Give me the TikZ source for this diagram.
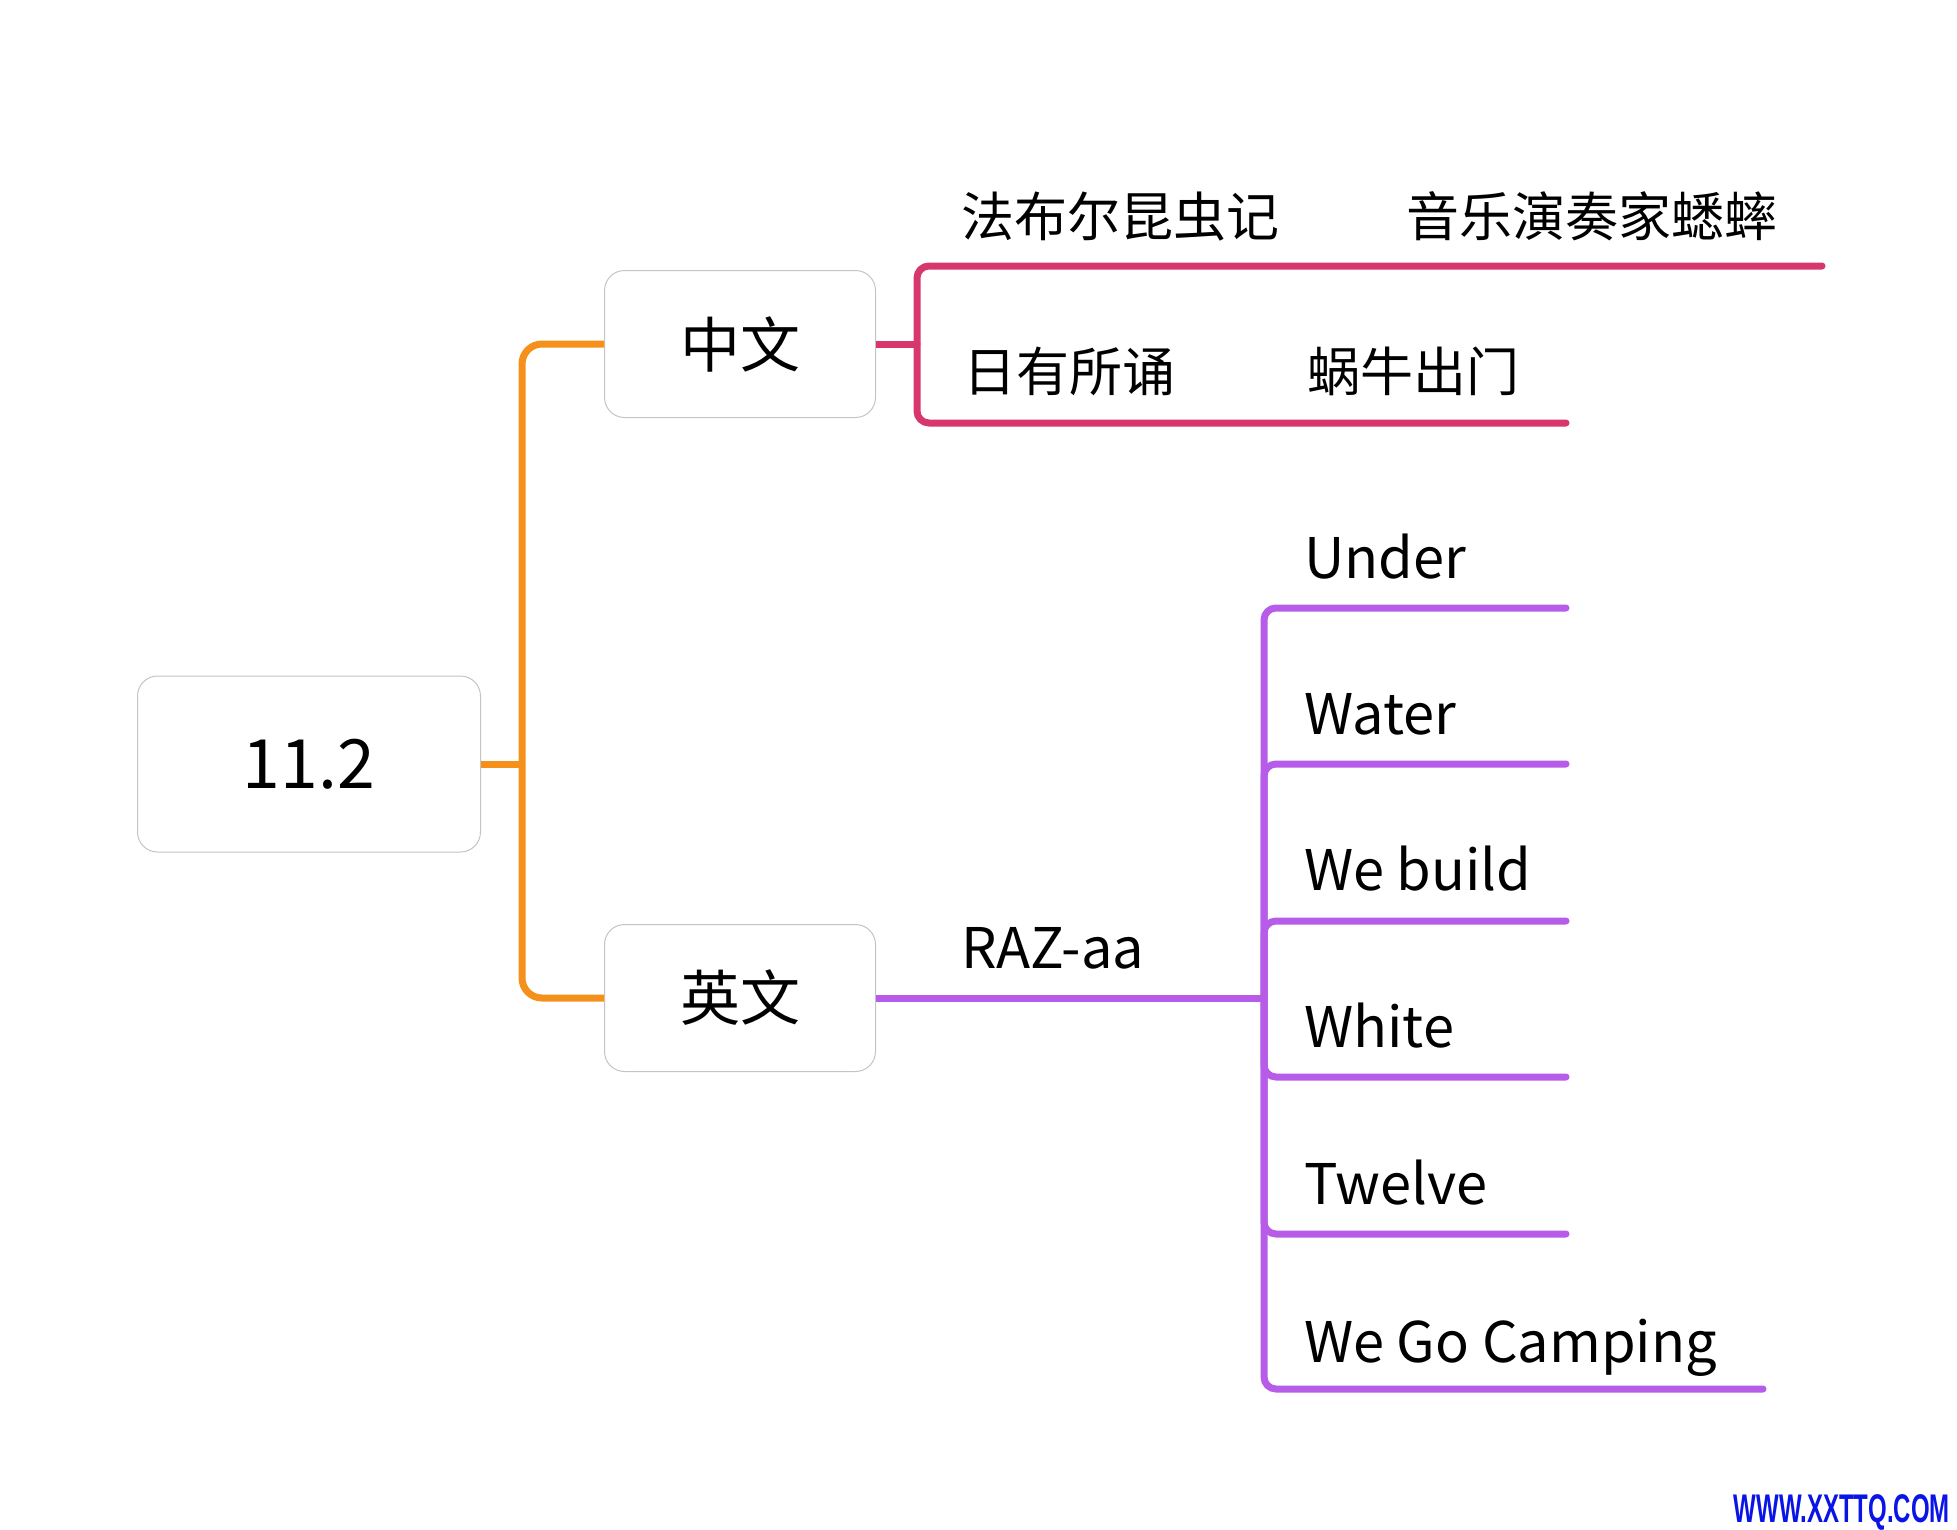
\documentclass[tikz,border=0pt]{standalone}
\usepackage{fontspec}
\setmainfont{Noto Sans CJK SC}
\newfontfamily\wmfont{Liberation Sans}
\definecolor{corange}{HTML}{F5901A}
\definecolor{cpink}{HTML}{D8376D}
\definecolor{cpurple}{HTML}{B65CE8}
\definecolor{cborder}{HTML}{C4C4C4}
\definecolor{cwm}{HTML}{0A14E6}
\begin{document}
\begin{tikzpicture}[x=1pt,y=-1pt,
  topicbox/.style={draw=cborder, line width=1pt, rounded corners=20, fill=white,
    inner sep=0pt, align=center},
  cjklabel/.style={anchor=base west, inner sep=0pt, font=\fontsize{53}{60}\selectfont},
  enlabel/.style={anchor=base west, inner sep=0pt, font=\fontsize{56}{62}\selectfont},
  oline/.style={draw=corange, line width=7pt, line cap=round},
  pline/.style={draw=cpink, line width=7pt, line cap=round},
  vline/.style={draw=cpurple, line width=7pt, line cap=round}]
\useasboundingbox (0,0) rectangle (1957,1529);
% topic boxes
\node[topicbox, minimum width=343pt, minimum height=176pt,
      font=\fontsize{68}{72}\selectfont] (root) at (309,764) {11.2};
\node[topicbox, minimum width=271pt, minimum height=147pt,
      font=\fontsize{60}{64}\selectfont] (zw) at (740,344) {中文};
\node[topicbox, minimum width=271pt, minimum height=147pt,
      font=\fontsize{60}{64}\selectfont] (yw) at (740,998) {英文};
% orange connectors
\coordinate (oj) at (522,764);
\draw[oline, line cap=butt] (root.east) -- (oj);
\draw[oline, line cap=butt, rounded corners=20] (zw.west) -| (oj) |- (yw.west);
% pink branch
\coordinate (pj) at (917,344);
\coordinate (p1) at (1822,266);
\coordinate (p2) at (1566,423);
\draw[pline, line cap=butt] (zw.east) -- (pj);
\draw[pline, rounded corners=12] (p1) -| (pj);
\draw[pline, rounded corners=12] (p2) -| (pj);
\node[cjklabel] (t1) at (961,236) {法布尔昆虫记};
\node[cjklabel] (t2) at (1406,236) {音乐演奏家蟋蟀};
\node[cjklabel] (t3) at (963,391) {日有所诵};
\node[cjklabel] (t4) at (1307,391) {蜗牛出门};
% purple branch
\coordinate (vj) at (1264,998);
\draw[vline, line cap=butt] (yw.east) -- (vj);
\node[enlabel] (raz) at (961,968) {RAZ-aa};
\coordinate (e1) at (1566,608);
\coordinate (e2) at (1566,764);
\coordinate (e3) at (1566,921);
\coordinate (e4) at (1566,1077);
\coordinate (e5) at (1566,1234);
\coordinate (e6) at (1763,1389);
\foreach \e in {e1,e2,e3,e4,e5,e6}
  \draw[vline, rounded corners=12] (vj) |- (\e);
\node[enlabel] (l1) at (1304,578) {Under};
\node[enlabel] (l2) at (1304,734) {Water};
\node[enlabel] (l3) at (1304,890) {We build};
\node[enlabel] (l4) at (1304,1047) {White};
\node[enlabel] (l5) at (1304,1204) {Twelve};
\node[enlabel] (l6) at (1304,1362) {We Go Camping};
% watermark
\node[anchor=base east, inner sep=0pt, text=cwm, xscale=0.6,
      font=\wmfont\bfseries\fontsize{40}{42}\selectfont] (wm) at (1950,1522) {WWW.XXTTQ.COM};
\end{tikzpicture}
\end{document}
